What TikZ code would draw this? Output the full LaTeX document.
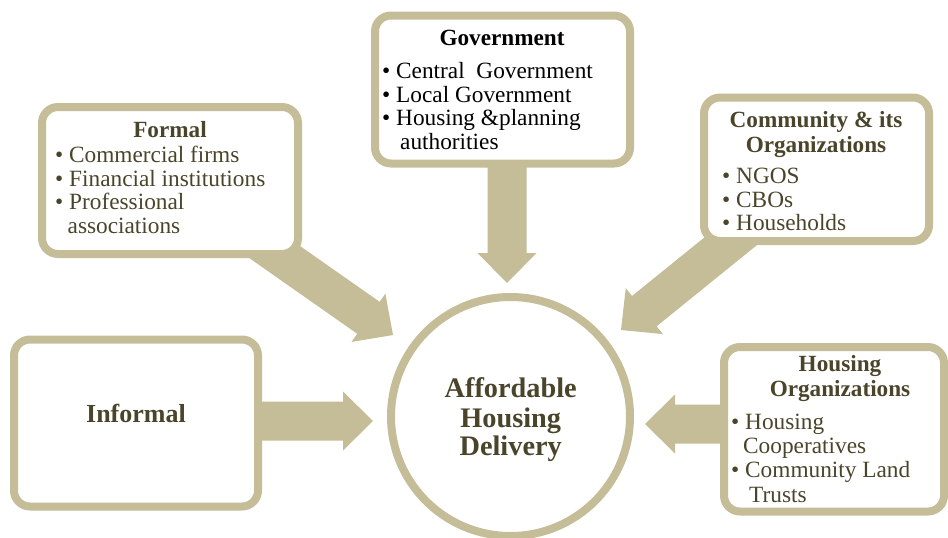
\documentclass[tikz,border=0pt]{standalone}
\usepackage{fontspec}
\setmainfont{Liberation Serif}
\usetikzlibrary{calc}
\definecolor{arrowtan}{HTML}{C4BD97}
\definecolor{textolive}{HTML}{4A452A}
\tikzset{
  panel/.style={draw=arrowtan, line width=8pt, fill=white, rounded corners=16pt, inner sep=0pt},
  hub/.style={circle, draw=arrowtan, line width=8pt, fill=white, inner sep=0pt, minimum size=239pt},
  body/.style={inner sep=0pt, font=\fontsize{23.3}{24}\selectfont, anchor=base west, text=textolive},
  head/.style={inner sep=0pt, font=\fontsize{23.2}{24}\selectfont\bfseries, anchor=base, text=textolive},
  bighead/.style={inner sep=0pt, font=\fontsize{28.3}{30}\selectfont\bfseries, anchor=base, text=textolive},
}
\newcommand{\flowarrow}[2]{%
  \coordinate (#1h) at ($(#2)!30pt!(#1)$);
  \fill[arrowtan] ($(#1)!19.5pt!90:(#2)$) -- ($(#1h)!19.5pt!90:(#2)$) -- ($(#1h)!29.5pt!90:(#2)$) -- (#2)
    -- ($(#1h)!29.5pt!-90:(#2)$) -- ($(#1h)!19.5pt!-90:(#2)$) -- ($(#1)!19.5pt!-90:(#2)$) -- cycle;
}
\begin{document}
\begin{tikzpicture}[x=1pt,y=-1pt]
\useasboundingbox (0,0) rectangle (948,538);
\fill[white] (0,0) rectangle (948,538);

% arrow end points
\coordinate (govtail) at (507,150);
\coordinate (govtip) at (507,283);
\coordinate (formaltail) at (241.5,228.8);
\coordinate (formaltip) at (393,335);
\coordinate (commtail) at (760.9,216.8);
\coordinate (commtip) at (621,330);
\coordinate (housetail) at (740,424);
\coordinate (housetip) at (645,424);
\coordinate (inftail) at (240,421);
\coordinate (inftip) at (373,421);

\flowarrow{govtail}{govtip}
\flowarrow{formaltail}{formaltip}
\flowarrow{commtail}{commtip}
\flowarrow{housetail}{housetip}
\flowarrow{inftail}{inftip}

% boxes
\node[panel, minimum width=255pt, minimum height=148pt] (gov) at (502.5,89.5) {};
\node[panel, minimum width=256pt, minimum height=147pt] (formal) at (170,180.5) {};
\node[panel, minimum width=225pt, minimum height=143.5pt] (comm) at (816.5,169.25) {};
\node[panel, minimum width=220pt, minimum height=164.5pt] (housing) at (834,429.25) {};
\node[panel, minimum width=244pt, minimum height=167pt] (informal) at (136,423) {};
\node[hub] (center) at (510.5,416.5) {};

% Government
\node[head, text=black] (govt) at (502,45.5) {Government};
\node[body, text=black] (gov1) at (382,78) {\textbullet\ Central\ \ Government};
\node[body, text=black] (gov2) at (382,102) {\textbullet\ Local Government};
\node[body, text=black] (gov3) at (382,125.5) {\textbullet\ Housing \&planning};
\node[body, text=black] (gov4) at (400,149.5) {authorities};

% Formal
\node[head] (formalt) at (170,137) {Formal};
\node[body] (f1) at (55,162.8) {\textbullet\ Commercial firms};
\node[body] (f2) at (55,186.5) {\textbullet\ Financial institutions};
\node[body] (f3) at (55,209.5) {\textbullet\ Professional};
\node[body] (f4) at (67.5,233.2) {associations};

% Community
\node[head] (commt1) at (816,127.8) {Community \& its};
\node[head] (commt2) at (816,152.2) {Organizations};
\node[body] (c1) at (722,183.2) {\textbullet\ NGOS};
\node[body] (c2) at (722,207.2) {\textbullet\ CBOs};
\node[body] (c3) at (722,230.5) {\textbullet\ Households};

% Housing organizations
\node[head] (hot1) at (840,371.2) {Housing};
\node[head] (hot2) at (840,396.5) {Organizations};
\node[body] (h1) at (731,429.8) {\textbullet\ Housing};
\node[body] (h2) at (743,453.8) {Cooperatives};
\node[body] (h3) at (731,477.8) {\textbullet\ Community Land};
\node[body] (h4) at (749,502.2) {Trusts};

% Informal
\node[inner sep=0pt, font=\fontsize{26}{28}\selectfont\bfseries, anchor=base, text=textolive] (inft) at (136,422.5) {Informal};

% Center
\node[bighead] (hub1) at (510.7,397.2) {Affordable};
\node[bighead] (hub2) at (510.7,427.2) {Housing};
\node[bighead] (hub3) at (510.7,455.5) {Delivery};
\end{tikzpicture}
\end{document}
